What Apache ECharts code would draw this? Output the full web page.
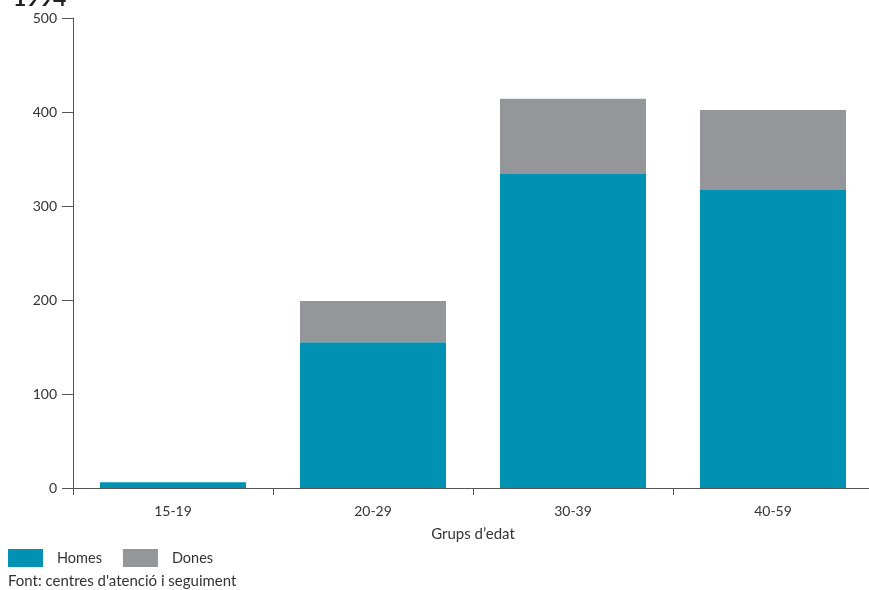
<!DOCTYPE html>
<html><head><meta charset="utf-8">
<script src="https://cdn.jsdelivr.net/npm/echarts@6/dist/echarts.min.js"></script>
<style>html,body{margin:0;padding:0;background:#fff}#c{width:869px;height:590px}</style>
</head><body><div id="c"></div>
<script>
const categories = ['15-19', '20-29', '30-39', '40-59'];
const homes = [6, 155, 334, 317];
const dones = [0, 44, 80, 85];
const yTicks = [0, 100, 200, 300, 400, 500];
const title = '1994';
const xName = 'Grups d\u2019edat';
const source = "Font: centres d'atenció i seguiment";

const font = 'Lato, "Noto Sans", sans-serif';
const chart = echarts.init(document.getElementById('c'), null, {renderer: 'canvas'});
chart.setOption({
  animation: false,
  textStyle: {fontFamily: font},
  title: {text: title, left: 8, top: -18, textStyle: {fontSize: 23, fontWeight: 'bold', color: '#222', fontFamily: font}},
  grid: {left: 73, width: 800, top: 18, bottom: 102, containLabel: false, outerBoundsMode: 'none'},
  legend: {
    left: 3, top: 544, itemWidth: 35, itemHeight: 18, itemGap: 21,
    icon: 'rect',
    textStyle: {fontSize: 14.5, color: '#333', padding: [0, 0, 0, 9]},
    data: ['Homes', 'Dones']
  },
  graphic: [{type: 'text', left: 8, top: 574, style: {text: source, fontSize: 15, fill: '#333', fontFamily: font}}],
  xAxis: {
    type: 'category', data: categories, boundaryGap: true,
    name: xName, nameLocation: 'middle', nameGap: 39,
    nameTextStyle: {fontSize: 15, color: '#333'},
    axisLine: {lineStyle: {color: '#555', width: 1}},
    axisTick: {show: true, length: 7, lineStyle: {color: '#555'}},
    axisLabel: {fontSize: 14, color: '#333', margin: 16}
  },
  yAxis: {
    type: 'value', min: yTicks[0], max: yTicks[yTicks.length - 1], interval: 100,
    axisLine: {show: true, lineStyle: {color: '#555', width: 1}},
    axisTick: {show: true, length: 11, lineStyle: {color: '#555'}},
    axisLabel: {fontSize: 14, color: '#333', margin: 16},
    splitLine: {show: false}
  },
  series: [
    {name: 'Homes', type: 'bar', stack: 't', data: homes, barWidth: '73%', itemStyle: {color: '#0091b3'}},
    {name: 'Dones', type: 'bar', stack: 't', data: dones, barWidth: '73%', itemStyle: {color: '#95969a'}}
  ]
});
</script></body></html>
